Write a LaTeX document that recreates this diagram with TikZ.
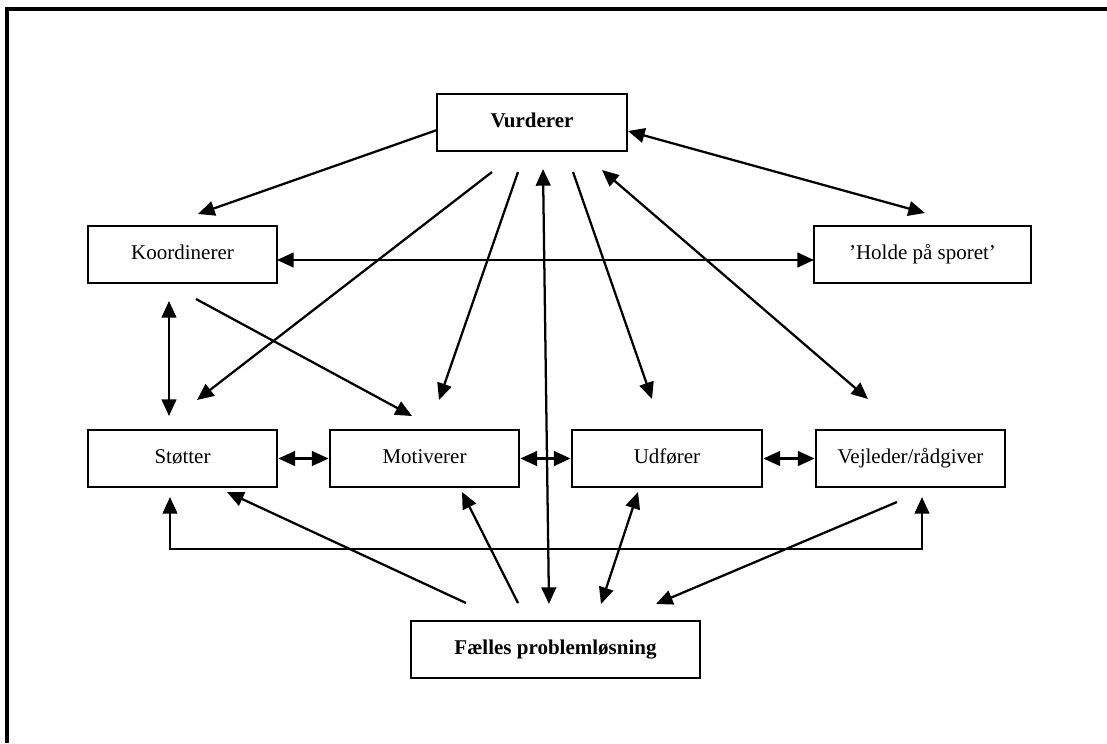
\documentclass[tikz,border=0pt]{standalone}
\usepackage{fontspec}
\setmainfont{Liberation Serif}
\usetikzlibrary{arrows.meta}
\begin{document}
\begin{tikzpicture}[x=0.75pt,y=-0.75pt,
  box/.style={draw, line width=2.1pt, rectangle, minimum height=42.75pt, inner sep=0pt,
     text height=11pt, text depth=3.5pt,
     font=\fontsize{15.75}{18}\selectfont},
  conn/.style={line width=1.7pt, -{Triangle[length=12.5pt,width=11pt]}},
  biconn/.style={line width=1.7pt, {Triangle[length=12.5pt,width=11pt]}-{Triangle[length=12.5pt,width=11pt]}}
]
\useasboundingbox (0,0) rectangle (1107,743);
% frame (top and left edges visible)
\draw[line width=2.4pt] (1107,9) -- (7,9) -- (7,743);

% nodes
\node[box, minimum width=142.5pt] (V) at (532,122.5) {\textbf{Vurderer}};
\node[box, minimum width=141.75pt] (K) at (182.5,254.5) {Koordinerer};
\node[box, minimum width=162.75pt] (H) at (922.5,254.5) {’Holde på sporet’};
\node[box, minimum width=141.75pt] (S) at (182.5,458.5) {Støtter};
\node[box, minimum width=141.75pt] (M) at (424.5,458.5) {Motiverer};
\node[box, minimum width=142.5pt] (U) at (667,458.5) {Udfører};
\node[box, minimum width=141.75pt] (J) at (910.5,458.5) {Vejleder/rådgiver};
\node[box, minimum width=216.75pt] (F) at (555.5,649.5) {\textbf{Fælles problemløsning}};

% connector end points
\coordinate (v1) at (437,130);  \coordinate (k1) at (198,214);
\coordinate (v2) at (628,131);  \coordinate (h1) at (925,213);
\coordinate (k2) at (277,260);  \coordinate (h2) at (814,260);
\coordinate (v3) at (492,172);  \coordinate (s1) at (197,400);
\coordinate (v4) at (518,172);  \coordinate (m1) at (439,400);
\coordinate (v5) at (543,169);  \coordinate (f1) at (549,604);
\coordinate (v6) at (573,172);  \coordinate (u1) at (652,399);
\coordinate (v7) at (602,170);  \coordinate (j1) at (868,399);
\coordinate (k3) at (196,299);  \coordinate (m2) at (412,416);
\coordinate (k4) at (169,301);  \coordinate (s2) at (169,416);
\coordinate (s3) at (170,497);  \coordinate (b1) at (170,549);
\coordinate (b2) at (922,549);  \coordinate (j2) at (922,497);
\coordinate (f2) at (466,603);  \coordinate (s4) at (227,492);
\coordinate (f3) at (518,603);  \coordinate (m3) at (462,492);
\coordinate (f4) at (601,604);  \coordinate (u2) at (638,492);
\coordinate (j3) at (897,502);  \coordinate (f5) at (656,604);

% connectors
\draw[conn] (v1) -- (k1);
\draw[biconn] (v2) -- (h1);
\draw[biconn] (k2) -- (h2);
\draw[conn] (v3) -- (s1);
\draw[conn] (v4) -- (m1);
\draw[biconn] (v5) -- (f1);
\draw[conn] (v6) -- (u1);
\draw[biconn] (v7) -- (j1);
\draw[conn] (k3) -- (m2);
\draw[biconn] (k4) -- (s2);
\draw[biconn] (S.east) -- (M.west);
\draw[biconn] (M.east) -- (U.west);
\draw[biconn] (U.east) -- (J.west);
\draw[biconn] (s3) -- (b1) -- (b2) -- (j2);
\draw[conn] (f2) -- (s4);
\draw[conn] (f3) -- (m3);
\draw[biconn] (f4) -- (u2);
\draw[conn] (j3) -- (f5);
\end{tikzpicture}
\end{document}
